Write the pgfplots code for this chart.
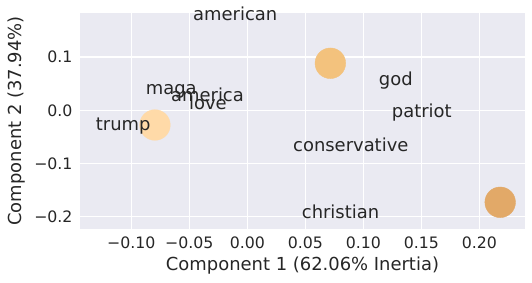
\documentclass[border=0pt]{standalone}
\usepackage{pgfplots}
\pgfplotsset{compat=1.18}
\usepackage{fontspec}
\setmainfont{DejaVu Sans}
\definecolor{bgc}{HTML}{EAEAF2}
\definecolor{txt}{HTML}{262626}
\definecolor{c1}{HTML}{FFDAA8}
\definecolor{c2}{HTML}{F3C27D}
\definecolor{c3}{HTML}{E2A968}
\begin{document}
\begin{tikzpicture}
\begin{axis}[
  name=ax,
  set layers,
  scale only axis,
  width=445bp, height=216bp,
  xmin=-0.1442, xmax=0.2394,
  ymin=-0.2227, ymax=0.1825,
  axis background/.style={fill=bgc},
  axis line style={draw=none},
  grid=major,
  major grid style={white, line width=1.1bp},
  major tick length=0pt,
  xtick={-0.1,-0.05,0,0.05,0.1,0.15,0.2},
  xticklabels={−0.10,−0.05,0.00,0.05,0.10,0.15,0.20},
  ytick={-0.2,-0.1,0,0.1},
  yticklabels={−0.2,−0.1,0.0,0.1},
  tick label style={font=\fontsize{15.8}{18}\selectfont, text=txt},
  xticklabel style={yshift=-4bp},
  yticklabel style={xshift=-4bp},
  label style={font=\fontsize{18}{21}\selectfont, text=txt},
  xlabel={Component 1 (62.06\% Inertia)},
  ylabel={Component 2 (37.94\%)},
  xlabel style={yshift=-2bp},
  ylabel style={yshift=2bp},
  clip=false,
]
\addplot[only marks, mark=*, mark size=15.3bp, color=c1, mark options={draw=c1, fill=c1}] coordinates {(-0.0796,-0.0276)};
\addplot[only marks, mark=*, mark size=15.3bp, color=c2, mark options={draw=c2, fill=c2}] coordinates {(0.0716,0.0882)};
\addplot[only marks, mark=*, mark size=15.3bp, color=c3, mark options={draw=c3, fill=c3}] coordinates {(0.2180,-0.1726)};
\begin{pgfonlayer}{axis foreground}
\begin{scope}[every node/.style={anchor=base west, inner sep=0pt, text=txt, font=\fontsize{18}{21}\selectfont}]
\node at (axis cs:-0.0468,0.1675) {american};
\node at (axis cs:-0.0876,0.0287) {maga};
\node at (axis cs:-0.0658,0.0174) {america};
\node at (axis cs:-0.0503,0.0019) {love};
\node at (axis cs:-0.1307,-0.0388) {trump};
\node at (axis cs:0.1133,0.0456) {god};
\node at (axis cs:0.1245,-0.0139) {patriot};
\node at (axis cs:0.0394,-0.0764) {conservative};
\node at (axis cs:0.0469,-0.2034) {christian};
\end{scope}
\end{pgfonlayer}
\end{axis}
\path ([xshift=-80bp,yshift=-54bp]ax.south west) rectangle ([xshift=7bp,yshift=13bp]ax.north east);
\end{tikzpicture}
\end{document}
